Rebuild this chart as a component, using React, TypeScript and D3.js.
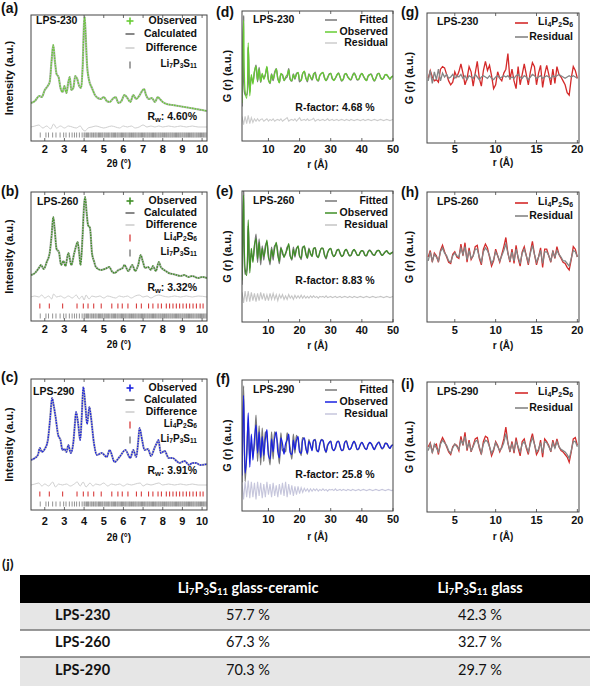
import React from "react";
import * as d3 from "d3";

type Pt = [number, number];

// ---------------- XRD (Rietveld) data ----------------
const TWO_THETA_TICKS = [2, 3, 4, 5, 6, 7, 8, 9, 10];

const XRD_230_OBS: Pt[] = [
  [1.3, 7], [1.5, 9], [1.72, 14], [1.85, 13], [2.0, 20], [2.15, 24], [2.25, 28], [2.35, 50], [2.43, 65], [2.52, 48],
  [2.6, 36], [2.7, 33], [2.8, 22], [2.9, 18], [3.0, 24], [3.1, 17], [3.2, 28], [3.27, 33], [3.35, 20], [3.45, 22],
  [3.55, 34], [3.65, 31], [3.75, 24], [3.85, 22], [3.93, 45], [4.0, 88], [4.03, 93], [4.08, 75], [4.15, 45], [4.25, 30],
  [4.4, 22], [4.55, 15], [4.7, 12], [4.85, 11], [5.0, 13], [5.15, 9], [5.3, 8], [5.45, 11], [5.6, 13], [5.75, 7],
  [5.9, 9], [6.05, 15], [6.2, 12], [6.35, 8], [6.5, 15], [6.65, 11], [6.8, 14], [6.95, 19], [7.05, 21], [7.15, 15],
  [7.3, 11], [7.45, 12], [7.6, 8], [7.75, 13], [7.85, 11], [8.0, 8], [8.2, 6], [8.5, 5], [8.8, 4], [9.1, 3],
  [9.4, 2], [9.7, 1], [10.0, 0], [10.25, -1],
];
const XRD_230_DIFF: Pt[] = [
  [1.3, 0], [1.5, 1], [1.7, 2], [1.9, -1], [2.1, 1], [2.3, -2], [2.45, 3], [2.6, -1], [2.8, 1], [3.0, -1],
  [3.2, 1], [3.4, 0], [3.6, -1], [3.8, 1], [3.95, -3], [4.05, -4], [4.2, -1], [4.4, 0], [4.6, 1], [4.8, 0],
  [5.0, -1], [5.2, 0], [5.4, 1], [5.6, 0], [5.8, -1], [6.0, 1], [6.2, 0], [6.4, 1], [6.6, -1], [6.8, 0],
  [7.0, 2], [7.2, 0], [7.4, 1], [7.6, 0], [7.8, 1], [8.0, 0], [8.3, 1], [8.6, 0], [8.9, 1], [9.2, 0],
  [9.5, 1], [9.8, 0], [10.25, 0],
];

const XRD_260_OBS: Pt[] = [
  [1.3, 8], [1.5, 10], [1.7, 15], [1.81, 18], [1.95, 14], [2.1, 21], [2.25, 30], [2.35, 48], [2.43, 66], [2.5, 55],
  [2.6, 34], [2.72, 31], [2.83, 18], [2.95, 22], [3.05, 17], [3.2, 30], [3.35, 18], [3.5, 30], [3.58, 36], [3.67, 41],
  [3.75, 30], [3.82, 18], [3.92, 46], [4.0, 78], [4.05, 86], [4.13, 70], [4.2, 58], [4.3, 55], [4.4, 30], [4.5, 22],
  [4.6, 16], [4.85, 13], [5.05, 14], [5.29, 16], [5.4, 12], [5.55, 10], [5.75, 13], [5.96, 15], [6.05, 18], [6.25, 12],
  [6.45, 18], [6.6, 12], [6.75, 18], [6.88, 28], [6.98, 22], [7.1, 15], [7.25, 16], [7.4, 13], [7.5, 17], [7.65, 12],
  [7.8, 21], [7.9, 16], [8.0, 14], [8.15, 12], [8.3, 10], [8.5, 9], [8.7, 8], [8.9, 7], [9.1, 8], [9.3, 6],
  [9.5, 7], [9.8, 5], [10.0, 6], [10.25, 5],
];
const XRD_260_DIFF: Pt[] = [
  [1.3, 0], [1.5, 1], [1.7, 0], [1.85, 2], [2.0, -1], [2.2, 1], [2.35, -2], [2.45, 3], [2.6, 0], [2.8, 1],
  [3.0, -1], [3.2, 1], [3.4, -1], [3.6, 2], [3.75, -2], [3.9, 1], [4.0, -3], [4.1, 2], [4.25, -2], [4.4, 1],
  [4.6, 0], [4.8, 1], [5.0, -1], [5.2, 1], [5.4, 0], [5.6, -1], [5.8, 1], [6.0, 0], [6.2, 1], [6.4, -1],
  [6.6, 1], [6.8, 2], [7.0, 0], [7.2, 1], [7.4, -1], [7.6, 1], [7.8, 2], [8.0, 1], [8.3, 0], [8.6, 1],
  [8.9, 0], [9.2, 1], [9.5, 0], [9.8, 1], [10.25, 0],
];

const XRD_290_OBS: Pt[] = [
  [1.3, 7], [1.5, 9], [1.65, 12], [1.75, 19], [1.85, 15], [2.0, 18], [2.15, 26], [2.28, 50], [2.37, 69], [2.45, 62],
  [2.55, 50], [2.68, 32], [2.8, 27], [2.9, 17], [3.0, 18], [3.1, 15], [3.2, 22], [3.32, 14], [3.45, 24], [3.52, 40],
  [3.59, 55], [3.7, 43], [3.8, 27], [3.88, 50], [3.96, 80], [4.07, 60], [4.15, 43], [4.27, 60], [4.35, 50], [4.5, 24],
  [4.65, 12], [4.9, 14], [5.15, 10], [5.3, 17], [5.55, 5], [5.8, 10], [6.1, 17], [6.35, 9], [6.5, 17], [6.65, 10],
  [6.75, 25], [6.82, 39], [6.95, 27], [7.07, 17], [7.25, 18], [7.4, 11], [7.6, 20], [7.7, 24], [7.78, 27], [7.9, 14],
  [8.1, 16], [8.3, 9], [8.5, 9], [8.7, 6], [8.85, 4], [9.1, 6], [9.35, 2], [9.5, 4], [9.7, 4], [9.9, 2],
  [10.25, 3],
];
const XRD_290_DIFF: Pt[] = [
  [1.3, 0], [1.5, 1], [1.7, 2], [1.85, -1], [2.0, 1], [2.2, -1], [2.4, 3], [2.55, -2], [2.7, 1], [2.9, 0],
  [3.1, 1], [3.3, -1], [3.5, 1], [3.65, 3], [3.8, -1], [3.95, 3], [4.1, -2], [4.3, 2], [4.45, -1], [4.6, 1],
  [4.8, 0], [5.0, 2], [5.2, -1], [5.4, 1], [5.6, 0], [5.8, 1], [6.0, -1], [6.2, 1], [6.4, 0], [6.6, 1],
  [6.85, 2], [7.0, -1], [7.2, 1], [7.4, 0], [7.6, 1], [7.8, 2], [8.0, 0], [8.3, 1], [8.6, 0], [8.9, 1],
  [9.2, 0], [9.5, 1], [9.8, 0], [10.25, 0],
];

const LI7P3S11_REFLECTIONS = [
  1.77, 2.06, 2.19, 2.4, 2.57, 2.78, 2.96, 3.08, 3.25, 3.39, 3.51, 3.62, 3.76, 3.9,
  4.0, 4.05, 4.12, 4.18, 4.22, 4.3, 4.36, 4.41, 4.48, 4.55, 4.6, 4.66, 4.73, 4.78, 4.84, 4.9, 4.95,
  5.02, 5.07, 5.13, 5.2, 5.25, 5.31, 5.38, 5.43, 5.49, 5.55, 5.6, 5.67, 5.72, 5.78, 5.84, 5.9, 5.95,
  6.01, 6.07, 6.12, 6.18, 6.24, 6.3, 6.35, 6.41, 6.47, 6.52, 6.58, 6.63, 6.69, 6.75, 6.8, 6.86, 6.92, 6.97,
  7.03, 7.08, 7.14, 7.2, 7.25, 7.31, 7.36, 7.42, 7.48, 7.53, 7.59, 7.64, 7.7, 7.76, 7.81, 7.87, 7.92, 7.98,
  8.03, 8.09, 8.15, 8.2, 8.26, 8.31, 8.37, 8.42, 8.48, 8.53, 8.59, 8.65, 8.7, 8.76, 8.81, 8.87, 8.92, 8.98,
  9.03, 9.09, 9.14, 9.2, 9.25, 9.31, 9.36, 9.42, 9.47, 9.53, 9.58, 9.64, 9.7, 9.75, 9.81, 9.86, 9.92, 9.97,
  10.03, 10.08, 10.14, 10.2,
];
const LI4P2S6_REFLECTIONS = [
  1.75, 2.23, 2.91, 3.64, 3.96, 4.2, 4.49, 4.87, 5.41, 5.72, 5.94, 6.23, 6.66, 6.91, 7.28, 7.5, 7.76, 7.93,
  8.18, 8.35, 8.52, 8.69, 8.86, 9.03, 9.2, 9.37, 9.54, 9.71, 9.9, 10.05,
];

// ---------------- PDF data (r from 1.5 Å, step 0.5 Å) ----------------
const PDF_R0 = 1.5;
const PDF_DR = 0.5;
const R_TICKS_PDF = [10, 20, 30, 40, 50];

const PDF_230_OBS = [
  -2.2, 4.8, -1.2, -1.8, 2.9, -1.6, 0.2, -0.6, 0.5, 0.9,
  -0.3, 0.7, -0.4, 0.3, -0.2, 0.2, 0.9, -0.3, -0.5, 0.2,
  -0.2, 0.3, 0.7, -0.1, -0.5, 0.3, 0.1, -0.3, 0.0, 0.2,
  0.6, -0.2, -0.3, 0.2, -0.1, 0.2, 0.4, -0.2, -0.3, 0.3,
  0.5, -0.1, -0.3, 0.2, 0.0, -0.2, 0.3, 0.3, -0.2, -0.3,
  0.1, 0.3, 0.4, -0.1, -0.3, 0.0, 0.2, 0.3, -0.1, -0.3,
  -0.1, 0.2, 0.3, 0.0, -0.3, -0.2, 0.2, 0.3, 0.0, -0.2,
  -0.2, 0.1, 0.3, 0.1, -0.2, -0.2, 0.1, 0.3, 0.1, -0.2,
  -0.3, 0.1, 0.2, 0.2, -0.1, -0.3, -0.1, 0.2, 0.3, 0.0,
  -0.2, -0.1, 0.2, 0.2, 0.0, -0.2, 0.0, 0.1,
];
const PDF_230_RES = [
  0.3, -0.4, 0.3, -0.3, 0.4, -0.3, 0.2, -0.2, 0.1, -0.1,
  0.1, -0.1, 0.05, 0.1, -0.1, 0.0, 0.1, -0.1, 0.05, -0.05,
  0.1, -0.1, 0.0, 0.05, -0.05, 0.1, -0.1, 0.0, 0.1, 0.2,
  -0.1, 0.0, 0.05, -0.05, 0.1, -0.1, 0.05, 0.2, -0.05, 0.0,
  0.05, -0.05, 0.1, -0.05, 0.0, 0.05, 0.15, -0.1, 0.0, 0.05,
  -0.05, 0.0, 0.05, -0.05, 0.0, 0.1, -0.05, 0.0, 0.05, -0.05,
  0.0, 0.05, -0.05, 0.0, 0.05, 0.0, -0.05, 0.05, 0.0, -0.05,
  0.05, 0.0, -0.05, 0.0, 0.05, 0.0, -0.05, 0.0, 0.05, -0.05,
  0.0, 0.05, 0.0, -0.05, 0.0, 0.05, 0.0, -0.05, 0.0, 0.05,
  0.0, -0.05, 0.0, 0.05, 0.0, -0.05, 0.0, 0.05,
];
const PDF_260_OBS = [
  -2.3, 4.9, -1.3, -1.9, 2.8, -1.7, 0.4, -0.8, 0.7, 1.2,
  -0.5, 0.9, -0.6, 0.4, -0.3, 0.3, 1.1, -0.4, -0.7, 0.3,
  -0.3, 0.4, 0.9, -0.2, -0.7, 0.4, 0.1, -0.4, 0.0, 0.3,
  0.8, -0.3, -0.5, 0.3, -0.2, 0.3, 0.6, -0.3, -0.4, 0.4,
  0.6, -0.1, -0.4, 0.3, 0.0, -0.3, 0.4, 0.4, -0.2, -0.4,
  0.1, 0.4, 0.4, -0.2, -0.4, 0.0, 0.3, 0.4, -0.1, -0.3,
  -0.1, 0.2, 0.3, 0.0, -0.3, -0.2, 0.2, 0.3, 0.0, -0.2,
  -0.2, 0.1, 0.3, 0.1, -0.2, -0.2, 0.1, 0.2, 0.1, -0.2,
  -0.2, 0.1, 0.2, 0.1, -0.1, -0.2, 0.0, 0.2, 0.2, 0.0,
  -0.2, -0.1, 0.1, 0.2, 0.0, -0.1, 0.0, 0.1,
];
const PDF_260_RES = [
  0.4, -0.5, 0.5, -0.4, 0.5, -0.4, 0.4, -0.3, 0.3, -0.4,
  0.3, -0.3, 0.4, -0.2, 0.3, -0.3, 0.2, -0.3, 0.3, -0.2,
  0.3, -0.2, 0.2, -0.3, 0.2, -0.1, 0.2, -0.2, 0.1, -0.2,
  0.2, -0.1, 0.1, -0.2, 0.15, -0.1, 0.1, -0.1, 0.15, -0.1,
  0.1, -0.1, 0.05, -0.1, 0.1, -0.05, 0.1, -0.05, 0.05, -0.1,
  0.05, 0.0, 0.05, -0.05, 0.1, -0.05, 0.0, 0.05, -0.05, 0.0,
  0.05, -0.05, 0.0, 0.05, -0.05, 0.0, 0.05, 0.0, -0.05, 0.05,
  0.0, -0.05, 0.05, 0.0, -0.05, 0.0, 0.05, 0.0, -0.05, 0.0,
  0.05, 0.0, -0.05, 0.0, 0.05, 0.0, -0.05, 0.0, 0.0, 0.05,
  0.0, -0.05, 0.0, 0.05, 0.0, -0.05, 0.0, 0.05,
];
const PDF_290_OBS = [
  -2.5, 4.3, -2.3, -1.0, 2.8, -1.8, 1.0, -1.2, 0.6, 1.8,
  -0.6, 1.2, -1.0, 0.8, -0.8, 0.6, 1.4, -0.8, -1.1, 0.6,
  -0.5, 0.7, 1.2, -0.5, -1.0, 0.7, 0.2, -0.7, 0.2, 0.5,
  1.0, -0.6, -0.7, 0.5, -0.3, 0.5, 0.8, -0.5, -0.6, 0.5,
  0.7, -0.2, -0.6, 0.4, 0.1, -0.4, 0.5, 0.5, -0.3, -0.5,
  0.2, 0.5, 0.5, -0.2, -0.5, 0.0, 0.3, 0.4, -0.2, -0.4,
  -0.1, 0.3, 0.4, 0.0, -0.4, -0.3, 0.3, 0.4, 0.0, -0.3,
  -0.2, 0.2, 0.4, 0.1, -0.3, -0.2, 0.1, 0.3, 0.1, -0.2,
  -0.3, 0.1, 0.3, 0.2, -0.1, -0.3, 0.0, 0.2, 0.3, 0.0,
  -0.2, -0.1, 0.2, 0.2, 0.0, -0.2, 0.0, 0.1,
];
const PDF_290_RES = [
  0.6, -0.8, 0.7, -0.6, 0.8, -0.7, 0.7, -0.6, 0.6, -0.8,
  0.7, -0.5, 0.6, -0.7, 0.5, -0.6, 0.7, -0.4, 0.5, -0.6,
  0.6, -0.5, 0.4, -0.6, 0.5, -0.4, 0.6, -0.5, 0.7, -0.6,
  0.5, -0.4, 0.4, -0.5, 0.3, -0.4, 0.3, -0.3, 0.2, -0.2,
  0.15, -0.1, 0.1, -0.15, 0.1, -0.1, 0.1, -0.05, 0.1, -0.1,
  0.05, -0.05, 0.1, -0.05, 0.05, -0.1, 0.05, 0.0, 0.05, -0.05,
  0.1, -0.05, 0.0, 0.05, -0.05, 0.05, 0.0, -0.05, 0.05, 0.0,
  -0.05, 0.05, 0.0, -0.05, 0.0, 0.05, -0.05, 0.0, 0.05, 0.0,
  -0.05, 0.0, 0.05, 0.0, -0.05, 0.0, 0.05, 0.0, -0.05, 0.0,
  0.05, 0.0, -0.05, 0.0, 0.05, 0.0, -0.05, 0.0,
];

// ---------------- Local PDF data (r from 1.75 Å, step 0.25 Å) ----------------
const LOC_R0 = 1.75;
const LOC_DR = 0.25;
const R_TICKS_LOC = [5, 10, 15, 20];

const LOC_230_LI4 = [
  -0.1, 0.5, 0.0, -0.3, -0.2, -0.4, 0.6, 0.8, 0.7, 0.2,
  -0.3, -0.6, -0.4, 0.4, 0.0, 0.4, 1.0, 0.3, -0.6, -0.1,
  0.8, 0.4, -0.7, 0.3, 1.2, -0.1, -0.7, 0.5, 1.2, 0.5,
  0.9, 0.1, -0.9, -0.6, 0.4, -0.1, -0.3, 0.3, 0.6, 1.8,
  -0.2, 0.6, -0.3, -0.9, 0.8, -0.6, 0.2, 1.0, 0.2, -0.6,
  0.4, 1.1, 0.8, -0.6, 0.3, 0.9, -0.8, 0.2, 0.9, 0.2,
  -0.6, 0.6, -0.5, 0.8, 0.2, 0.0, -0.3, -0.6, -1.2, -1.4,
  -0.1, 0.8, 0.5, -0.1,
];
const LOC_230_RES = [
  -0.3, 0.5, -0.5, 0.4, -0.2, 0.6, -0.3, 0.3, 0.0, 0.2,
  -0.1, 0.0, 0.2, -0.1, 0.1, 0.0, 0.2, -0.1, 0.1, -0.2,
  0.1, 0.0, -0.1, 0.2, 0.0, -0.2, 0.0, 0.1, 0.0, -0.1,
  0.1, -0.1, -0.2, 0.0, 0.1, -0.1, 0.0, 0.1, 0.0, 0.1,
  -0.1, 0.0, -0.1, 0.1, 0.2, 0.0, -0.1, 0.1, 0.0, -0.2,
  0.0, 0.2, 0.1, -0.1, 0.0, 0.1, -0.1, 0.0, 0.1, 0.0,
  -0.1, 0.1, 0.0, 0.1, 0.2, 0.1, 0.0, -0.1, 0.0, 0.1,
  0.0, 0.1, 0.0, -0.1,
];
const LOC_260_LI4 = [
  0.0, 0.5, -0.4, 0.3, 0.1, -0.4, 0.5, 0.9, 0.4, 0.0,
  -0.4, -0.5, 0.2, 0.4, 0.0, -0.1, 1.0, 0.1, 1.1, -0.4,
  0.7, -0.2, 0.1, 0.8, 0.9, -0.1, -0.6, 0.6, 1.0, 0.7,
  0.0, -0.7, -0.3, 0.6, 0.1, -0.4, 0.2, 0.8, 1.5, 0.3,
  -0.4, 0.6, -0.5, 0.9, -0.1, -0.7, 0.4, 0.8, 0.1, -0.6,
  0.4, 1.2, 0.2, -0.6, 0.0, 0.7, -0.8, 0.6, 0.6, 0.1,
  -0.4, 0.5, -0.1, 0.8, 0.2, -0.1, -0.4, -0.5, -0.8, -1.0,
  -0.2, 0.8, 0.6, 0.0,
];
const LOC_260_RES = [
  -0.3, 0.4, -0.3, 0.2, 0.0, -0.3, 0.4, 0.7, 0.3, 0.1,
  -0.3, -0.4, 0.1, 0.3, 0.1, 0.0, 0.7, 0.2, 0.8, -0.2,
  0.5, -0.1, 0.1, 0.6, 0.6, 0.0, -0.4, 0.4, 0.7, 0.5,
  0.1, -0.5, -0.2, 0.4, 0.1, -0.3, 0.1, 0.5, 1.0, 0.3,
  -0.3, 0.4, -0.3, 0.6, 0.0, -0.5, 0.3, 0.6, 0.1, -0.4,
  0.3, 0.9, 0.2, -0.4, 0.0, 0.5, -0.5, 0.4, 0.4, 0.1,
  -0.3, 0.4, 0.0, 0.5, 0.2, 0.0, -0.3, -0.3, -0.5, -0.7,
  -0.1, 0.5, 0.4, 0.0,
];
const LOC_290_LI4 = [
  0.1, 0.4, -0.3, 0.2, 0.3, -0.5, 0.4, 0.8, 0.5, 0.1,
  -0.3, -0.5, 0.1, 0.3, 0.2, -0.2, 0.9, 0.2, 1.2, -0.2,
  0.6, -0.3, 0.2, 0.7, 0.8, 0.0, -0.5, 0.5, 0.9, 0.8,
  0.1, -0.6, -0.2, 0.5, 0.2, -0.3, 0.1, 0.7, 1.6, 0.4,
  -0.3, 0.5, -0.4, 0.8, 0.0, -0.6, 0.5, 0.7, 0.0, -0.5,
  0.5, 1.1, 0.3, -0.5, -0.2, 0.6, -0.7, 0.7, 0.5, 0.2,
  -0.3, 0.6, 0.0, 0.7, 0.1, -0.2, -0.3, -0.5, -0.7, -1.1,
  -0.3, 0.7, 0.8, 0.2,
];
const LOC_290_RES = [
  -0.2, 0.3, -0.4, 0.3, 0.0, -0.3, 0.3, 0.6, 0.4, 0.2,
  -0.2, -0.4, 0.0, 0.3, 0.1, -0.1, 0.6, 0.3, 0.9, 0.0,
  0.4, -0.2, 0.1, 0.5, 0.6, 0.1, -0.4, 0.3, 0.6, 0.5,
  0.1, -0.4, -0.1, 0.4, 0.1, -0.2, 0.0, 0.4, 1.1, 0.4,
  -0.2, 0.3, -0.2, 0.5, 0.1, -0.3, 0.3, 0.5, 0.1, -0.3,
  0.3, 0.8, 0.3, -0.3, -0.1, 0.4, -0.4, 0.5, 0.4, 0.1,
  -0.2, 0.4, 0.0, 0.5, 0.1, -0.1, -0.2, -0.3, -0.5, -0.8,
  -0.2, 0.5, 0.5, 0.1,
];

// ---------------- Table data ----------------
const TABLE_SAMPLES = ["LPS-230", "LPS-260", "LPS-290"];
const GLASS_CERAMIC_PCT = [57.7, 67.3, 70.3];
const GLASS_PCT = [42.3, 32.7, 29.7];

// ---------------- styling ----------------
const SANS = "'Liberation Sans', Arial, Helvetica, sans-serif";
const TFONT = "Lato, 'Open Sans', sans-serif";
const FRAME = "#444";
const GREEN = "#66cc33";
const DGREEN = "#3f8f26";
const BLUE = "#1a22e0";
const RED = "#d42a2a";

function chemSpans(formula: string, size: number, key: string) {
  const tokens = formula.match(/[A-Za-z]+|\d+/g) || [];
  const shift = size * 0.28;
  let low = false;
  const out: any[] = [];
  tokens.forEach((t, i) => {
    const isNum = /^\d+$/.test(t);
    let dy = 0;
    if (isNum && !low) dy = shift;
    if (!isNum && low) dy = -shift;
    low = isNum;
    out.push(
      <tspan key={key + i} dy={dy} fontSize={isNum ? size * 0.66 : size}>
        {t}
      </tspan>
    );
  });
  return { spans: out, low, shift };
}

function Chem({ x, y, formula, size, anchor, fill, weight }: any) {
  const { spans } = chemSpans(formula, size, "c");
  return (
    <text x={x} y={y} textAnchor={anchor} fill={fill || "#111"} fontFamily={SANS} fontWeight={weight || "bold"} fontSize={size} dominantBaseline="middle">
      {spans}
    </text>
  );
}

function BottomAxis({ scale, ticks, y0, y1, labelY, title, titleY, titleX }: any) {
  return (
    <g>
      {ticks.map((t: number) => (
        <g key={t}>
          <line x1={scale(t)} x2={scale(t)} y1={y1} y2={y1 - 3} stroke={FRAME} strokeWidth={0.8} />
          <line x1={scale(t)} x2={scale(t)} y1={y0} y2={y0 + 3} stroke={FRAME} strokeWidth={0.8} />
          <text x={scale(t)} y={labelY} textAnchor="middle" dominantBaseline="middle" fontFamily={SANS} fontWeight="bold" fontSize={11} fill="#111">
            {t}
          </text>
        </g>
      ))}
      <text x={titleX} y={titleY} textAnchor="middle" dominantBaseline="middle" fontFamily={SANS} fontWeight="bold" fontSize={10} fill="#111">
        {title}
      </text>
    </g>
  );
}

function PanelLetter({ x, y, t }: any) {
  return (
    <text x={x} y={y} fontFamily={SANS} fontWeight="bold" fontSize={14} fill="#111">
      {t}
    </text>
  );
}

function YTitle({ x, y, t }: any) {
  return (
    <text x={x} y={y} transform={`rotate(-90 ${x} ${y})`} textAnchor="middle" dominantBaseline="middle" fontFamily={SANS} fontWeight="bold" fontSize={11} fill="#111">
      {t}
    </text>
  );
}

function XrdPanel(p: any) {
  const { x0, x1, y0, y1, zero, diffY, redY, grayY, obs, diff, color, name, rw, rows, rwY, letter, letterY, labelY, titleY, nameY, nameX, id } = p;
  const x = d3.scaleLinear().domain([1.3, 10.25]).range([x0, x1]);
  const y = d3.scaleLinear().domain([zero - y1, zero - y0]).range([y1, y0]);
  const dy = d3.scaleLinear().domain([-10, 10]).range([diffY + 10, diffY - 10]);
  const line = d3.line<Pt>().x((d) => x(d[0])).y((d) => y(d[1])).curve(d3.curveMonotoneX);
  const dline = d3.line<Pt>().x((d) => x(d[0])).y((d) => dy(d[1])).curve(d3.curveMonotoneX);
  const mx = 130;
  const tx = 197;
  const items: any[] = [
    { k: "plus", t: "Observed" },
    { k: "dash", t: "Calculated" },
    { k: "ldash", t: "Difference" },
  ];
  if (redY != null) items.push({ k: "rtick", t: "Li4P2S6", chem: true });
  items.push({ k: "gtick", t: "Li7P3S11", chem: true });
  return (
    <g>
      <defs>
        <clipPath id={id}>
          <rect x={x0} y={y0} width={x1 - x0} height={y1 - y0} />
        </clipPath>
      </defs>
      <g clipPath={`url(#${id})`}>
        <path d={dline(diff) || ""} fill="none" stroke="#cfcfcf" strokeWidth={1} />
        <path d={line(obs) || ""} fill="none" stroke="#b5b5b5" strokeWidth={2.2} />
        <path d={line(obs) || ""} fill="none" stroke={color} strokeWidth={1.4} strokeDasharray="1.6 1" />
        {redY != null &&
          LI4P2S6_REFLECTIONS.map((r, i) => (
            <line key={"r" + i} x1={x(r)} x2={x(r)} y1={redY - 2.5} y2={redY + 2.5} stroke={RED} strokeWidth={1} />
          ))}
        {LI7P3S11_REFLECTIONS.map((r, i) => (
          <line key={"g" + i} x1={x(r)} x2={x(r)} y1={grayY - 2.5} y2={grayY + 2.5} stroke="#777" strokeWidth={0.8} />
        ))}
      </g>
      <rect x={x0} y={y0} width={x1 - x0} height={y1 - y0} fill="none" stroke={FRAME} strokeWidth={1} />
      <BottomAxis scale={x} ticks={TWO_THETA_TICKS} y0={y0} y1={y1} labelY={labelY} title="2θ (°)" titleY={titleY} titleX={(x0 + x1) / 2} />
      <YTitle x={10} y={(y0 + y1) / 2} t="Intensity (a.u.)" />
      <PanelLetter x={1} y={letterY} t={letter} />
      <text x={nameX} y={nameY} dominantBaseline="middle" fontFamily={SANS} fontWeight="bold" fontSize={10.5} fill="#111">
        {name}
      </text>
      {items.map((it, i) => {
        const ry = rows[i];
        let marker: any = null;
        if (it.k === "plus")
          marker = (
            <g stroke={color} strokeWidth={1.6}>
              <line x1={mx - 3.5} x2={mx + 3.5} y1={ry} y2={ry} />
              <line x1={mx} x2={mx} y1={ry - 3.5} y2={ry + 3.5} />
            </g>
          );
        else if (it.k === "dash") marker = <line x1={mx - 4.5} x2={mx + 4.5} y1={ry} y2={ry} stroke="#555" strokeWidth={1.4} />;
        else if (it.k === "ldash") marker = <line x1={mx - 4.5} x2={mx + 4.5} y1={ry} y2={ry} stroke="#c8c8c8" strokeWidth={1.4} />;
        else if (it.k === "rtick") marker = <line x1={mx} x2={mx} y1={ry - 3.5} y2={ry + 3.5} stroke={RED} strokeWidth={1.2} />;
        else marker = <line x1={mx} x2={mx} y1={ry - 3.5} y2={ry + 3.5} stroke="#666" strokeWidth={1.2} />;
        return (
          <g key={i}>
            {marker}
            {it.chem ? (
              <Chem x={tx} y={ry - 1.5} formula={it.t} size={10} anchor="end" />
            ) : (
              <text x={tx} y={ry} textAnchor="end" dominantBaseline="middle" fontFamily={SANS} fontWeight="bold" fontSize={10.5} fill="#111">
                {it.t}
              </text>
            )}
          </g>
        );
      })}
      <text x={tx} y={rwY} textAnchor="end" dominantBaseline="middle" fontFamily={SANS} fontWeight="bold" fontSize={10.5} fill="#111">
        <tspan>R</tspan>
        <tspan dy={3} fontSize={7.5}>w</tspan>
        <tspan dy={-3}>{": " + rw}</tspan>
      </text>
    </g>
  );
}

function PdfPanel(p: any) {
  const { x0, x1, y0, y1, base, resY, obs, res, color, resColor, name, rf, rows, rfY, letter, letterY, labelY, titleY, id } = p;
  const x = d3.scaleLinear().domain([1.5, 50]).range([x0, x1]);
  const u = 11.8;
  const y = d3.scaleLinear().domain([0, 1]).range([base, base - u]);
  const yr = d3.scaleLinear().domain([0, 1]).range([resY, resY - u]);
  const rAt = (i: number) => PDF_R0 + i * PDF_DR;
  const obsPts: Pt[] = obs.map((v: number, i: number) => [rAt(i), v]);
  const fitPts: Pt[] = obs.map((v: number, i: number) => [rAt(i), v - res[i]]);
  const resPts: Pt[] = res.map((v: number, i: number) => [rAt(i), v]);
  const line = d3.line<Pt>().x((d) => x(d[0])).y((d) => y(d[1])).curve(d3.curveCatmullRom);
  const rline = d3.line<Pt>().x((d) => x(d[0])).y((d) => yr(d[1])).curve(d3.curveLinear);
  const sx0 = 325, sx1 = 337, tx = 388;
  const leg = [
    { t: "Fitted", c: "#777" },
    { t: "Observed", c: color },
    { t: "Residual", c: resColor },
  ];
  return (
    <g>
      <defs>
        <clipPath id={id}>
          <rect x={x0} y={y0} width={x1 - x0} height={y1 - y0} />
        </clipPath>
      </defs>
      <g clipPath={`url(#${id})`}>
        <path d={rline(resPts) || ""} fill="none" stroke={resColor} strokeWidth={1.1} />
        <path d={line(fitPts) || ""} fill="none" stroke="#7a7a7a" strokeWidth={1.4} />
        <path d={line(obsPts) || ""} fill="none" stroke={color} strokeWidth={1.2} />
      </g>
      <rect x={x0} y={y0} width={x1 - x0} height={y1 - y0} fill="none" stroke={FRAME} strokeWidth={1} />
      <BottomAxis scale={x} ticks={R_TICKS_PDF} y0={y0} y1={y1} labelY={labelY} title="r (Å)" titleY={titleY} titleX={(x0 + x1) / 2} />
      <YTitle x={228} y={(y0 + y1) / 2} t="G (r) (a.u.)" />
      <PanelLetter x={216} y={letterY} t={letter} />
      <text x={253} y={rows[0]} dominantBaseline="middle" fontFamily={SANS} fontWeight="bold" fontSize={10.5} fill="#111">
        {name}
      </text>
      {leg.map((l, i) => (
        <g key={i}>
          <line x1={sx0} x2={sx1} y1={rows[i]} y2={rows[i]} stroke={l.c} strokeWidth={1.5} />
          <text x={tx} y={rows[i]} textAnchor="end" dominantBaseline="middle" fontFamily={SANS} fontWeight="bold" fontSize={10.5} fill="#111">
            {l.t}
          </text>
        </g>
      ))}
      <text x={335} y={rfY} textAnchor="middle" dominantBaseline="middle" fontFamily={SANS} fontWeight="bold" fontSize={10.5} fill="#111">
        {"R-factor: " + rf}
      </text>
    </g>
  );
}

function LocPanel(p: any) {
  const { x0, x1, y0, y1, center, li4, res, name, rows, letter, letterY, labelY, titleY, id } = p;
  const x = d3.scaleLinear().domain([1.6, 20.2]).range([x0, x1]);
  const y = d3.scaleLinear().domain([0, 1]).range([center, center - 13]);
  const rAt = (i: number) => LOC_R0 + i * LOC_DR;
  const line = d3.line<number>().x((_d, i) => x(rAt(i))).y((d) => y(d)).curve(d3.curveLinear);
  const sx0 = 515, sx1 = 528, tx = 573;
  return (
    <g>
      <defs>
        <clipPath id={id}>
          <rect x={x0} y={y0} width={x1 - x0} height={y1 - y0} />
        </clipPath>
      </defs>
      <g clipPath={`url(#${id})`}>
        <path d={line(li4) || ""} fill="none" stroke={RED} strokeWidth={1.3} />
        <path d={line(res) || ""} fill="none" stroke="#858585" strokeWidth={1.3} />
      </g>
      <rect x={x0} y={y0} width={x1 - x0} height={y1 - y0} fill="none" stroke={FRAME} strokeWidth={1} />
      <BottomAxis scale={x} ticks={R_TICKS_LOC} y0={y0} y1={y1} labelY={labelY} title="r (Å)" titleY={titleY} titleX={(x0 + x1) / 2} />
      <YTitle x={410} y={(y0 + y1) / 2} t="G (r) (a.u.)" />
      <PanelLetter x={401} y={letterY} t={letter} />
      <text x={437} y={rows[0] - 1} dominantBaseline="middle" fontFamily={SANS} fontWeight="bold" fontSize={10.5} fill="#111">
        {name}
      </text>
      <line x1={sx0} x2={sx1} y1={rows[0]} y2={rows[0]} stroke={RED} strokeWidth={1.6} />
      <Chem x={tx} y={rows[0] - 1} formula="Li4P2S6" size={10.5} anchor="end" />
      <line x1={sx0} x2={sx1} y1={rows[1]} y2={rows[1]} stroke="#858585" strokeWidth={1.6} />
      <text x={tx} y={rows[1]} textAnchor="end" dominantBaseline="middle" fontFamily={SANS} fontWeight="bold" fontSize={10.5} fill="#111">
        Residual
      </text>
    </g>
  );
}

function HeaderText({ x, y, rest }: any) {
  const size = 14.5;
  const { spans, shift } = chemSpans("Li7P3S11", size, "h");
  return (
    <text x={x} y={y} textAnchor="middle" dominantBaseline="middle" fontFamily={TFONT} fontWeight="bold" fontSize={size} fill="#fff">
      {spans}
      <tspan dy={-shift}>{" " + rest}</tspan>
    </text>
  );
}

function Table() {
  const x0 = 20, x1 = 590;
  const hy0 = 575, hy1 = 603;
  const rowB = [603, 630, 657, 686];
  const c1 = 248, c2 = 480;
  return (
    <g>
      <text x={2} y={569} fontFamily={TFONT} fontWeight="bold" fontSize={14} fill="#111">
        (j)
      </text>
      <rect x={x0} y={hy0} width={x1 - x0} height={hy1 - hy0} fill="#000" />
      <HeaderText x={c1} y={(hy0 + hy1) / 2} rest="glass-ceramic" />
      <HeaderText x={c2} y={(hy0 + hy1) / 2} rest="glass" />
      {TABLE_SAMPLES.map((s, i) => {
        const ya = rowB[i], yb = rowB[i + 1];
        const cy = (ya + yb) / 2;
        return (
          <g key={s}>
            <rect x={x0} y={ya} width={x1 - x0} height={yb - ya} fill={i % 2 === 0 ? "#e6e6e6" : "#ffffff"} />
            <text x={55} y={cy} dominantBaseline="middle" fontFamily={TFONT} fontWeight="bold" fontSize={14.5} fill="#111">
              {s}
            </text>
            <text x={c1} y={cy} textAnchor="middle" dominantBaseline="middle" fontFamily={TFONT} fontSize={14.5} fill="#111">
              {GLASS_CERAMIC_PCT[i].toFixed(1) + " %"}
            </text>
            <text x={c2} y={cy} textAnchor="middle" dominantBaseline="middle" fontFamily={TFONT} fontSize={14.5} fill="#111">
              {GLASS_PCT[i].toFixed(1) + " %"}
            </text>
          </g>
        );
      })}
      <line x1={x0} x2={x1} y1={630} y2={630} stroke="#777" strokeWidth={1.5} />
      <line x1={x0} x2={x1} y1={657} y2={657} stroke="#777" strokeWidth={1.5} />
    </g>
  );
}

export default function App() {
  return (
    <svg width={592} height={686} viewBox="0 0 592 686" style={{ position: "absolute", left: 0, top: 0, background: "#fff" }}>
      <rect x={0} y={0} width={592} height={686} fill="#fff" />
      {/* XRD column */}
      <XrdPanel id="ca" x0={31} x1={207} y0={15} y1={141} zero={110} diffY={127} redY={null} grayY={135}
        obs={XRD_230_OBS} diff={XRD_230_DIFF} color={GREEN} name="LPS-230" nameX={36} nameY={21}
        rw="4.60%" rows={[21, 34, 48, 65]} rwY={117} letter="(a)" letterY={13} labelY={150} titleY={164} />
      <XrdPanel id="cb" x0={31} x1={207} y0={192} y1={321} zero={283} diffY={297} redY={306} grayY={316}
        obs={XRD_260_OBS} diff={XRD_260_DIFF} color={DGREEN} name="LPS-260" nameX={37} nameY={202}
        rw="3.32%" rows={[201, 213, 225, 238, 253]} rwY={288} letter="(b)" letterY={196} labelY={330} titleY={345} />
      <XrdPanel id="cc" x0={31} x1={207} y0={379} y1={510} zero={467} diffY={485} redY={494} grayY={504}
        obs={XRD_290_OBS} diff={XRD_290_DIFF} color={BLUE} name="LPS-290" nameX={33} nameY={392}
        rw="3.91%" rows={[388, 400, 412, 425, 440]} rwY={471} letter="(c)" letterY={382} labelY={522} titleY={538} />
      {/* PDF column */}
      <PdfPanel id="cd" x0={242} x1={393} y0={11} y1={141} base={77} resY={120} obs={PDF_230_OBS} res={PDF_230_RES}
        color={GREEN} resColor="#cccccc" name="LPS-230" rf="4.68 %" rows={[20, 32, 43]} rfY={108}
        letter="(d)" letterY={17} labelY={150} titleY={165} />
      <PdfPanel id="ce" x0={242} x1={393} y0={191} y1={322} base={253} resY={297} obs={PDF_260_OBS} res={PDF_260_RES}
        color={DGREEN} resColor="#c4c4c4" name="LPS-260" rf="8.83 %" rows={[201, 213, 225]} rfY={281}
        letter="(e)" letterY={196} labelY={331} titleY={346} />
      <PdfPanel id="cf" x0={242} x1={393} y0={380} y1={511} base={446} resY={490} obs={PDF_290_OBS} res={PDF_290_RES}
        color={BLUE} resColor="#c6c6dc" name="LPS-290" rf="25.8 %" rows={[390, 402, 414]} rfY={475}
        letter="(f)" letterY={384} labelY={520} titleY={537} />
      {/* local PDF column */}
      <LocPanel id="cg" x0={427} x1={579} y0={13} y1={143} center={77} li4={LOC_230_LI4} res={LOC_230_RES}
        name="LPS-230" rows={[23, 37]} letter="(g)" letterY={17} labelY={150} titleY={163} />
      <LocPanel id="ch" x0={427} x1={579} y0={192} y1={322} center={257} li4={LOC_260_LI4} res={LOC_260_RES}
        name="LPS-260" rows={[203, 216]} letter="(h)" letterY={197} labelY={331} titleY={346} />
      <LocPanel id="ci" x0={427} x1={579} y0={382} y1={512} center={448} li4={LOC_290_LI4} res={LOC_290_RES}
        name="LPS-290" rows={[393, 408]} letter="(i)" letterY={389} labelY={521} titleY={537} />
      <Table />
    </svg>
  );
}
